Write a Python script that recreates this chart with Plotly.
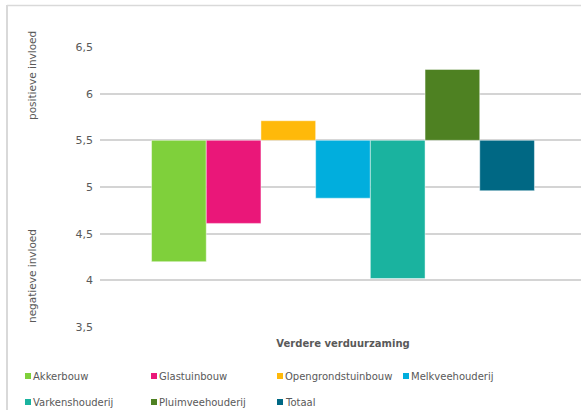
import plotly.graph_objects as go

category = ["Verdere verduurzaming"]
series = ["Akkerbouw", "Glastuinbouw", "Opengrondstuinbouw", "Melkveehouderij",
          "Varkenshouderij", "Pluimveehouderij", "Totaal"]
values = [4.20, 4.61, 5.71, 4.88, 4.02, 6.26, 4.96]
colors = ["#7FD03B", "#EA1779", "#FFB90A", "#01AEDD", "#1AB39F", "#4E8122", "#006884"]
baseline = 5.5
tick_vals = [3.5, 4, 4.5, 5, 5.5, 6, 6.5]
tick_text = ["3,5", "4", "4,5", "5", "5,5", "6", "6,5"]

W, H = 581, 410
L, R, T, B = 100, 0, 47, 83
PW, PH = W - L - R, H - T - B
FONT = "DejaVu Sans"
GRAY = "#595959"


def px(x):
    return (x - L) / PW


def py(y):
    return (H - B - y) / PH


fig = go.Figure()
for name, v, c in zip(series, values, colors):
    fig.add_trace(go.Bar(
        x=category, y=[v - baseline], base=baseline, name=name,
        marker=dict(color=c, line=dict(color="rgba(255,255,255,0.45)", width=1)),
        showlegend=False,
    ))

shapes = [
    dict(type="line", xref="paper", yref="paper", x0=px(7), x1=px(581), y0=py(5.5), y1=py(5.5),
         line=dict(color="#D9D9D9", width=1.5)),
    dict(type="line", xref="paper", yref="paper", x0=px(7), x1=px(7), y0=py(5), y1=py(410),
         line=dict(color="#D9D9D9", width=2)),
]
annotations = [
    dict(text="positieve invloed", textangle=-90, x=px(32), y=py(76), xref="paper", yref="paper",
         xanchor="center", yanchor="middle",
         showarrow=False, font=dict(family=FONT, size=10.5, color=GRAY)),
    dict(text="negatieve invloed", textangle=-90, x=px(32), y=py(276), xref="paper", yref="paper",
         xanchor="center", yanchor="middle",
         showarrow=False, font=dict(family=FONT, size=10.5, color=GRAY)),
]
for i, (name, c) in enumerate(zip(series, colors)):
    col, row = i % 4, i // 4
    mx = 28 + col * 126
    my = 376 + row * 26
    shapes.append(dict(type="rect", xref="paper", yref="paper",
                       x0=px(mx - 3), x1=px(mx + 3), y0=py(my - 3), y1=py(my + 3),
                       fillcolor=c, line=dict(width=0)))
    annotations.append(dict(text=name, x=px(mx + 2.5), y=py(my), xref="paper", yref="paper",
                            xanchor="left", yanchor="middle", showarrow=False,
                            font=dict(family=FONT, size=10, color=GRAY)))

fig.update_layout(
    width=W, height=H,
    margin=dict(l=L, r=R, t=T, b=B),
    paper_bgcolor="white", plot_bgcolor="white",
    barmode="group", bargap=0.204, bargroupgap=0,
    font=dict(family=FONT, color=GRAY),
    shapes=shapes, annotations=annotations,
    xaxis=dict(type="category", range=[-0.5052, 0.4948], showgrid=False, showline=False,
               ticks="", tickfont=dict(family=FONT, size=10, color=GRAY, weight="bold"),
               ticklabelstandoff=9),
    yaxis=dict(range=[3.5, 6.5], tickvals=tick_vals, ticktext=tick_text,
               showgrid=True, gridcolor="#D4D4D4", gridwidth=1.5, zeroline=False,
               showline=False, ticks="", ticklabelstandoff=6,
               tickfont=dict(family=FONT, size=11, color=GRAY)),
)

fig.write_html(
    "out.html",
    config={"displayModeBar": False},
    post_script=("document.body.style.margin='0';document.body.style.overflow='hidden';"
                 "document.documentElement.style.overflow='hidden';"),
)
